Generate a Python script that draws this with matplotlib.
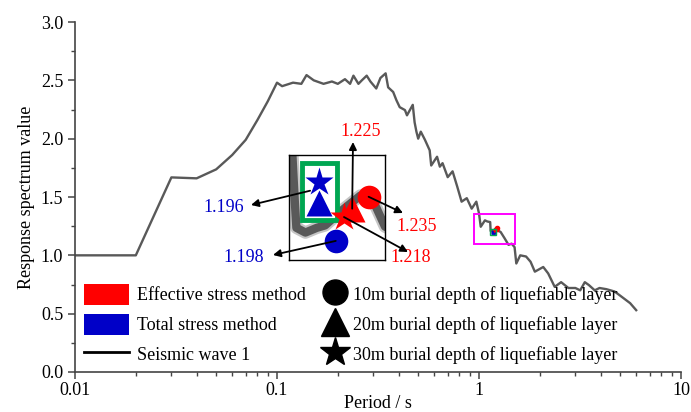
import numpy as np
import matplotlib.pyplot as plt
from matplotlib.patches import Patch, Rectangle
from matplotlib.lines import Line2D
import matplotlib.transforms as mtransforms
from matplotlib.ticker import FixedLocator, MultipleLocator, LogLocator, NullFormatter

plt.rcParams['font.family'] = ['Liberation Serif', 'DejaVu Serif']
plt.rcParams['font.size'] = 13

# response spectrum of seismic wave 1
period = [0.01, 0.02, 0.03, 0.04, 0.05, 0.06, 0.07, 0.08, 0.09, 0.1, 0.106, 0.12, 0.132,
          0.14, 0.152, 0.17, 0.187, 0.2, 0.217, 0.23, 0.239, 0.253, 0.263, 0.278, 0.29,
          0.31, 0.325, 0.345, 0.355, 0.376, 0.39, 0.405, 0.43, 0.44, 0.47, 0.48, 0.49,
          0.5, 0.515, 0.54, 0.57, 0.58, 0.62, 0.64, 0.66, 0.7, 0.74, 0.78, 0.82, 0.87,
          0.92, 0.97, 1.0, 1.02, 1.07, 1.1, 1.136, 1.14, 1.142, 1.153, 1.167, 1.177,
          1.2, 1.22, 1.238, 1.25, 1.28, 1.34, 1.4, 1.45, 1.5, 1.53, 1.6, 1.71, 1.8,
          1.89, 2.08, 2.2, 2.37, 2.55, 2.77, 3.0, 3.17, 3.34, 3.5, 3.74, 3.95, 4.27,
          4.69, 4.95, 5.6, 6.0]
spectrum = [1.0, 1.0, 1.668, 1.66, 1.737, 1.86, 1.99, 2.16, 2.32, 2.48, 2.45, 2.48, 2.47,
            2.545, 2.5, 2.47, 2.49, 2.47, 2.51, 2.47, 2.54, 2.47, 2.5, 2.54, 2.49,
            2.43, 2.52, 2.56, 2.44, 2.4, 2.33, 2.27, 2.245, 2.2, 2.29, 2.14, 2.06,
            2.0, 2.06, 1.99, 1.9, 1.77, 1.845, 1.76, 1.79, 1.67, 1.72, 1.59, 1.46, 1.49,
            1.4, 1.46, 1.36, 1.245, 1.3, 1.29, 1.285, 1.232, 1.209, 1.205, 1.209, 1.211,
            1.225, 1.236, 1.228, 1.21, 1.2, 1.145, 1.09, 1.1, 1.07, 0.93, 1.0, 0.99, 0.945,
            0.86, 0.9, 0.845, 0.73, 0.77, 0.72, 0.72, 0.7, 0.77, 0.745, 0.7, 0.72, 0.71,
            0.69, 0.66, 0.59, 0.53]

# peak response for the three burial depths (10 m, 20 m, 30 m)
depths = ['10m', '20m', '30m']
total_period = [1.19, 1.17, 1.17]
total_value = [1.198, 1.196, 1.196]
effective_period = [1.23, 1.21, 1.20]
effective_value = [1.235, 1.225, 1.218]

depth_markers = ['o', '^', '*']
red = '#ff0000'
blue = '#0000c8'
curve_grey = '#595959'

zoom_period = (0.944, 1.507)
zoom_value = (1.097, 1.354)

fig = plt.figure(figsize=(6.91, 4.12), dpi=100)
ax = fig.add_axes([75 / 691, 40 / 412, 606 / 691, 350 / 412])
ax.set_zorder(3)
ax.patch.set_visible(False)

ax.plot(period, spectrum, color=curve_grey, lw=1.7, zorder=2)
for m, tp, tv, ep, ev in zip(depth_markers, total_period, total_value,
                             effective_period, effective_value):
    ax.plot(tp, tv, m, color=blue, ms=2.5, zorder=3)
    ax.plot(ep, ev, m, color=red, ms=3, zorder=3)
ax.plot(total_period[1], total_value[1], 's', mfc='none', mec='#00a651', ms=4, mew=1, zorder=3)
ax.add_patch(Rectangle((zoom_period[0], zoom_value[0]), zoom_period[1] - zoom_period[0],
                       zoom_value[1] - zoom_value[0], fill=False, ec='#ff00ff', lw=1.4, zorder=4))

ax.set_xscale('log')
ax.set_xlim(0.01, 10)
ax.set_ylim(0, 3.0)
ax.xaxis.set_major_locator(FixedLocator([0.01, 0.1, 1, 10]))
ax.set_xticklabels(['0.01', '0.1', '1', '10'])
ax.xaxis.set_minor_locator(LogLocator(base=10, subs=np.arange(2, 10)))
ax.xaxis.set_minor_formatter(NullFormatter())
ax.yaxis.set_major_locator(MultipleLocator(0.5))
ax.yaxis.set_minor_locator(MultipleLocator(0.25))
ax.yaxis.set_major_formatter(plt.FormatStrFormatter('%.1f'))
for side in ['top', 'right']:
    ax.spines[side].set_visible(False)
for side in ['left', 'bottom']:
    ax.spines[side].set_color('#444444')
    ax.spines[side].set_linewidth(1.2)
ax.tick_params(which='major', direction='out', length=5, width=1.1, color='#444444', labelsize=13)
ax.tick_params(axis='x', which='major', pad=2)
ax.tick_params(which='minor', direction='out', length=3, width=1.0, color='#444444')
ax.set_xlabel('Period / s', fontsize=13, labelpad=-3)
ax.set_ylabel('Response spectrum value', fontsize=13, labelpad=4)

# magnified view of the peak region
ins = fig.add_axes([289 / 691, 152 / 412, 96 / 691, 105 / 412])
ins.set_zorder(1)
ins.set_xlim(1.133, 1.25)
ins.set_ylim(1.182, 1.270)
ins.set_xticks([])
ins.set_yticks([])
for s in ins.spines.values():
    s.set_linewidth(1.0)
ins.plot(period, spectrum, color=curve_grey, lw=9, alpha=0.35, solid_capstyle='round', zorder=1)
ins.plot(period, spectrum, color=curve_grey, lw=6, solid_capstyle='round', zorder=1)
ins.add_patch(Rectangle((0.139, 0.381), 0.358, 0.54, transform=ins.transAxes,
                        fc='white', ec='#00a651', lw=3.5, zorder=2))

# the two equal 20 m / 30 m total-stress results are stacked inside the green box
stack_shift = {'^': 29, '*': 44}
marker_size = {'o': 17, '^': 19, '*': 21}
for m, tp, tv, ep, ev in zip(depth_markers, total_period, total_value,
                             effective_period, effective_value):
    tr = ins.transData
    if m in stack_shift:
        tr = tr + mtransforms.ScaledTranslation(0, stack_shift[m] / 72, fig.dpi_scale_trans)
    ins.plot(tp, tv, m, color=blue, ms=marker_size[m], mec='none', transform=tr, zorder=3)
    ins.plot(ep, ev, m, color=red, ms=marker_size[m], mec='none', zorder=4)


def frac(px, py):
    return ((px - 75) / 606, (372 - py) / 350)


arrow = dict(arrowstyle='-|>', color='k', lw=1.3, mutation_scale=11, shrinkA=0, shrinkB=0)

# value labels with arrows from the magnified markers
ax.annotate('', xy=frac(251, 205), xycoords='axes fraction',
            xytext=(0.22, 0.66), textcoords=ins.transAxes, arrowprops=arrow, zorder=6)
ax.text(*frac(244, 207), f'{total_value[1]:.3f}', transform=ax.transAxes, color=blue,
        ha='right', va='center', fontsize=13)

ax.annotate('', xy=frac(273, 255), xycoords='axes fraction',
            xytext=(total_period[0], total_value[0]), textcoords=ins.transData,
            arrowprops=arrow, zorder=6)
ax.text(*frac(264, 257), f'{total_value[0]:.3f}', transform=ax.transAxes, color=blue,
        ha='right', va='center', fontsize=13)

ax.annotate('', xy=frac(353, 142), xycoords='axes fraction',
            xytext=(effective_period[1], effective_value[1]), textcoords=ins.transData,
            arrowprops=arrow, zorder=6)
ax.text(*frac(361, 132), f'{effective_value[1]:.3f}', transform=ax.transAxes, color=red,
        ha='center', va='center', fontsize=13)

ax.annotate('', xy=frac(403, 213), xycoords='axes fraction',
            xytext=(effective_period[0], effective_value[0]), textcoords=ins.transData,
            arrowprops=arrow, zorder=6)
ax.text(*frac(396, 226), f'{effective_value[0]:.3f}', transform=ax.transAxes, color=red,
        ha='left', va='center', fontsize=13)

ax.annotate('', xy=frac(408, 252), xycoords='axes fraction',
            xytext=(effective_period[2], effective_value[2]), textcoords=ins.transData,
            arrowprops=arrow, zorder=6)
ax.text(*frac(390, 258), f'{effective_value[2]:.3f}', transform=ax.transAxes, color=red,
        ha='left', va='center', fontsize=13)

# legends
method_handles = [Patch(fc=red, ec='none'), Patch(fc=blue, ec='none'),
                  Line2D([], [], color='k', lw=2)]
method_labels = ['Effective stress method', 'Total stress method', 'Seismic wave 1']
leg1 = ax.legend(method_handles, method_labels, loc='upper left', bbox_to_anchor=frac(84, 284),
                 frameon=False, borderpad=0, borderaxespad=0, handlelength=2.5,
                 handleheight=1.4, handletextpad=0.45, labelspacing=0.5, fontsize=13)
ax.add_artist(leg1)

depth_handles = [Line2D([], [], ls='none', marker=m, color='k', ms=marker_size[m] + 1)
                 for m in depth_markers]
depth_labels = [f'{d} burial depth of liquefiable layer' for d in depths]
ax.legend(depth_handles, depth_labels, loc='upper left', bbox_to_anchor=frac(322, 284),
          frameon=False, borderpad=0, borderaxespad=0, handlelength=1.4,
          handleheight=1.4, handletextpad=0.3, labelspacing=0.5, fontsize=13)

fig.savefig('out.png', dpi=100)
